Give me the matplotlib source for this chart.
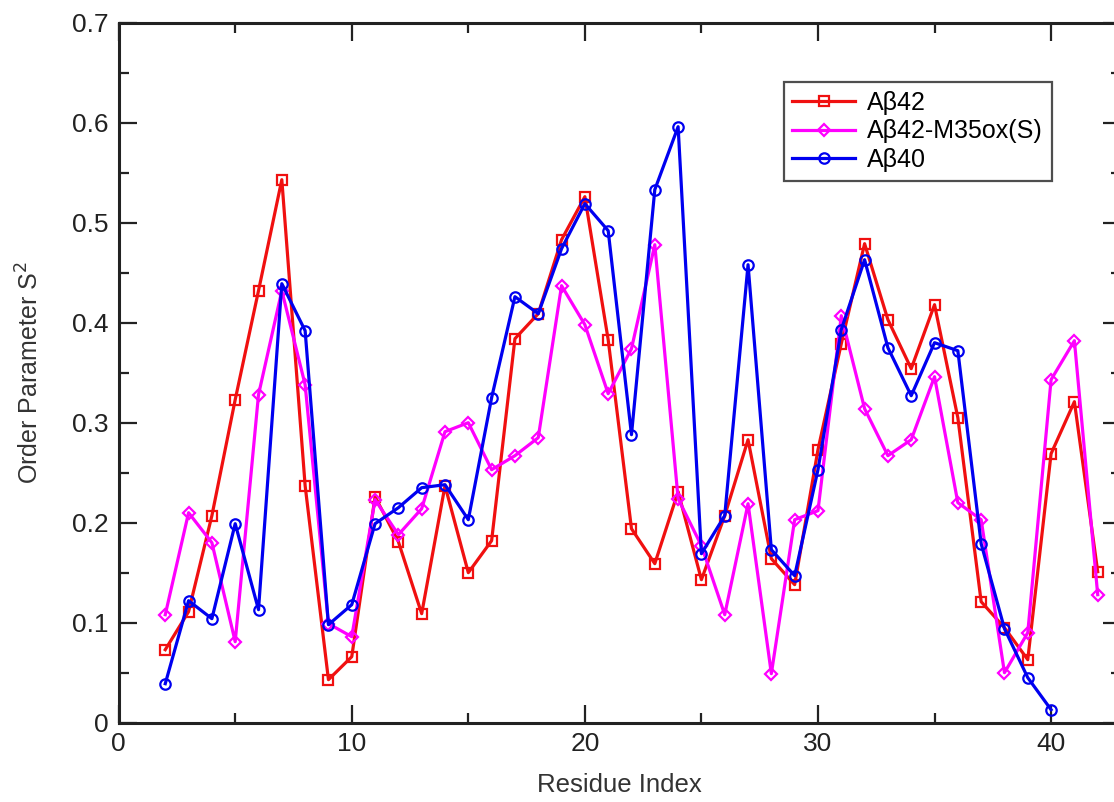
import numpy as np
import matplotlib
matplotlib.use("Agg")
import matplotlib.pyplot as plt
from matplotlib.ticker import MultipleLocator, FuncFormatter

plt.rcParams['font.family'] = ['Liberation Sans', 'DejaVu Sans']

# residue numbers
res42 = list(range(2, 43))
res40 = list(range(2, 41))

# order parameters
ab42 = [0.073, 0.111, 0.207, 0.323, 0.432, 0.543, 0.237, 0.043, 0.066, 0.226,
        0.181, 0.109, 0.237, 0.150, 0.182, 0.384, 0.409, 0.483, 0.526, 0.383,
        0.194, 0.159, 0.231, 0.143, 0.207, 0.283, 0.164, 0.138, 0.273, 0.379,
        0.479, 0.403, 0.354, 0.418, 0.305, 0.121, 0.095, 0.063, 0.269, 0.321,
        0.151]
ab42_ox = [0.108, 0.210, 0.180, 0.081, 0.328, 0.432, 0.338, 0.099, 0.086, 0.223,
           0.188, 0.214, 0.291, 0.300, 0.253, 0.267, 0.285, 0.437, 0.398, 0.329,
           0.374, 0.478, 0.224, 0.177, 0.108, 0.219, 0.049, 0.203, 0.212, 0.407,
           0.314, 0.267, 0.283, 0.346, 0.220, 0.203, 0.050, 0.090, 0.343, 0.382,
           0.128]
ab40 = [0.039, 0.122, 0.104, 0.199, 0.113, 0.439, 0.392, 0.098, 0.118, 0.199,
        0.215, 0.235, 0.238, 0.203, 0.325, 0.426, 0.409, 0.474, 0.519, 0.492,
        0.288, 0.533, 0.596, 0.169, 0.207, 0.458, 0.173, 0.147, 0.253, 0.393,
        0.463, 0.375, 0.327, 0.380, 0.372, 0.179, 0.094, 0.045, 0.013]

fig = plt.figure(figsize=(11.14, 8.02), dpi=100)
# right spine sits just past the image edge, as in the original
ax = fig.add_axes([0.1065, 0.0989, 0.8998, 0.8728])

ax.plot(res42, ab42, color='#f01010', lw=2.3, marker='s', ms=6.5, mfc='none',
        mew=1.6, label='Aβ42')
ax.plot(res42, ab42_ox, color='#ff00ff', lw=2.3, marker='D', ms=6.5, mfc='none',
        mew=1.6, label='Aβ42-M35ox(S)')
ax.plot(res40, ab40, color='#0000f0', lw=2.3, marker='o', ms=7.5, mfc='none',
        mew=1.6, label='Aβ40')

ax.set_xlim(0, 43)
ax.set_ylim(0, 0.7)
ax.xaxis.set_major_locator(MultipleLocator(10))
ax.xaxis.set_minor_locator(MultipleLocator(5))
ax.yaxis.set_major_locator(MultipleLocator(0.1))
ax.yaxis.set_minor_locator(MultipleLocator(0.05))
ax.yaxis.set_major_formatter(FuncFormatter(lambda v, p: '0' if abs(v) < 1e-9 else f'{v:.1f}'))

ax.tick_params(which='both', direction='in', top=True, right=True, width=1.6,
               labelsize=19, colors='#222222')
ax.tick_params(which='major', length=13, pad=7)
ax.tick_params(which='minor', length=7)
for s in ax.spines.values():
    s.set_linewidth(2.2)
    s.set_color('#222222')

ax.set_xlabel('Residue Index', fontsize=18.5, color='#333333', labelpad=12)
ax.set_ylabel('Order Parameter S$^2$', fontsize=18, color='#333333', labelpad=21)

leg = ax.legend(loc='upper right', bbox_to_anchor=(0.931, 0.915), fontsize=18,
                frameon=True, fancybox=False, edgecolor='#222222',
                borderpad=0.35, handlelength=2.5, handletextpad=0.5,
                labelspacing=0.18, borderaxespad=0)
leg.get_frame().set_linewidth(1.6)

fig.savefig('out.png', dpi=100)
